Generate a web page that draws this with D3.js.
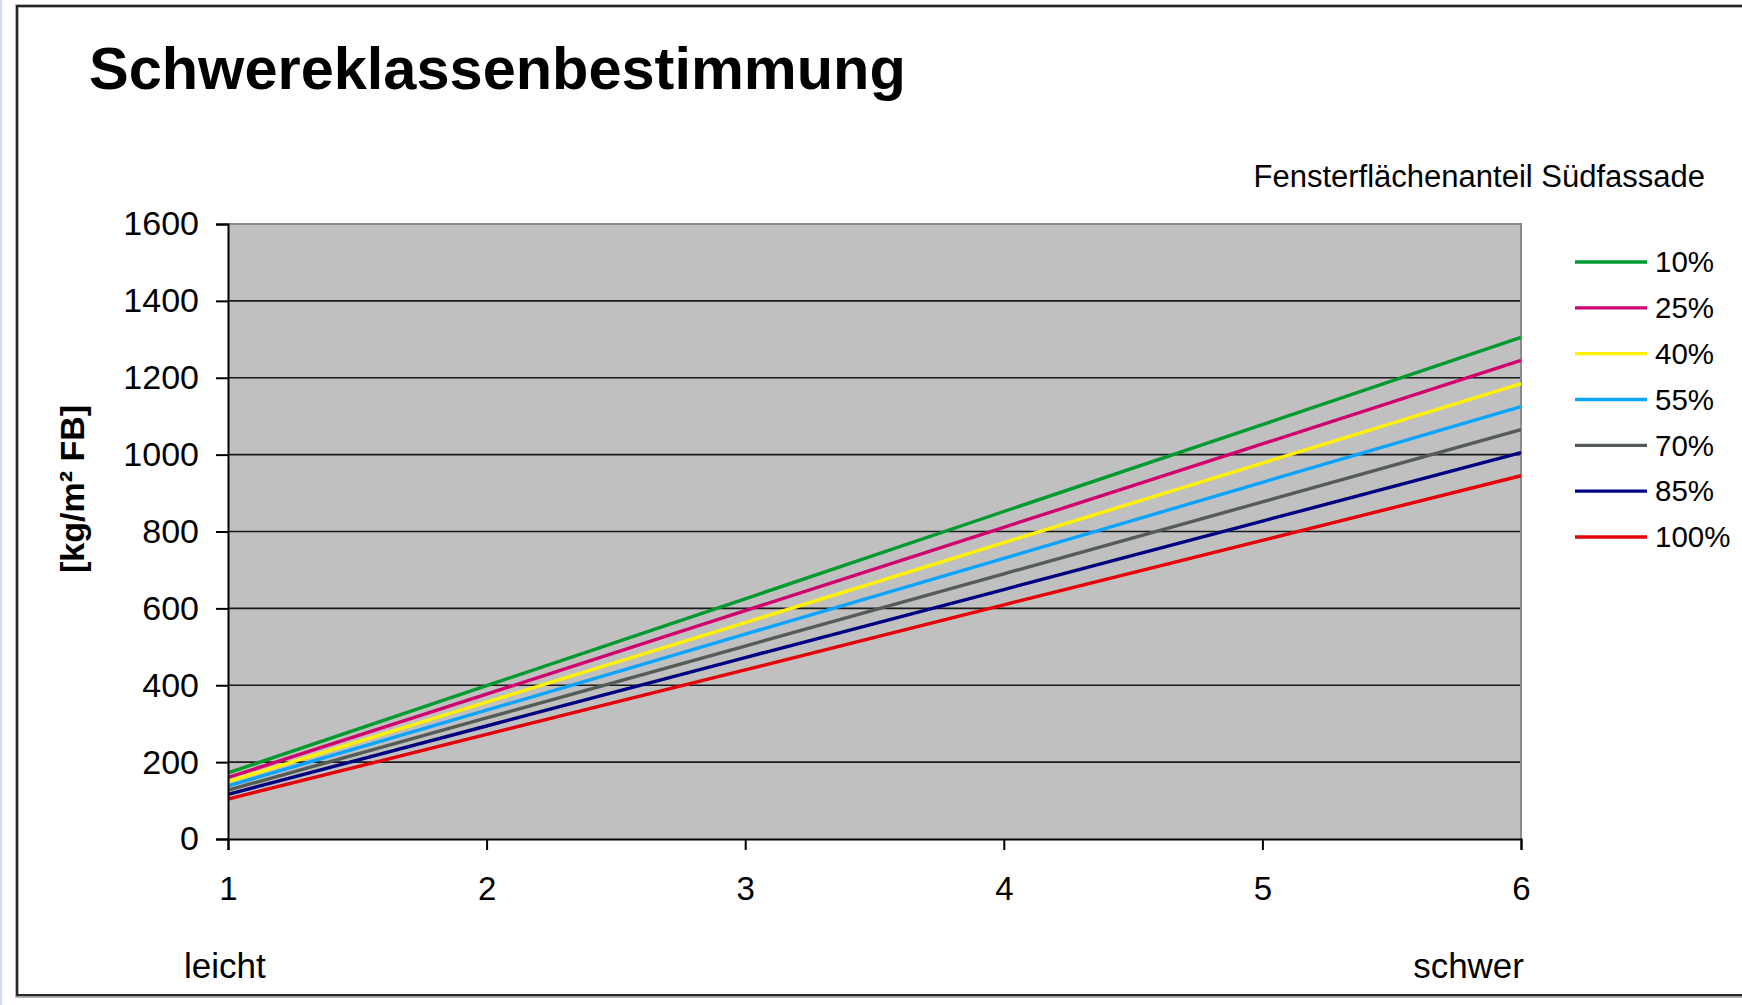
<!DOCTYPE html>
<html>
<head>
<meta charset="utf-8">
<script src="https://cdn.jsdelivr.net/npm/d3@7"></script>
<style>
  html, body { margin: 0; padding: 0; background: #ffffff; }
  svg { display: block; }
  text { font-family: "Liberation Sans", Arial, sans-serif; fill: #000; }
</style>
</head>
<body>
<svg id="chart" width="1742" height="1005"></svg>
<script>
// ---- data ----
const title = "Schwereklassenbestimmung";
const yAxisTitle = "[kg/m² FB]";
const legendTitle = "Fensterflächenanteil Südfassade";
const xLabelLeft = "leicht";
const xLabelRight = "schwer";
const xValues = [1, 2, 3, 4, 5, 6];
const yTicks = [0, 200, 400, 600, 800, 1000, 1200, 1400, 1600];
const seriesNames = ["10%", "25%", "40%", "55%", "70%", "85%", "100%"];
const s10  = [172, 399, 625, 852, 1078, 1305];
const s25  = [160, 377, 594, 811, 1028, 1245];
const s40  = [149, 356, 563, 771, 978, 1185];
const s55  = [138, 335, 533, 730, 928, 1125];
const s70  = [127, 315, 502, 690, 877, 1065];
const s85  = [116, 294, 472, 649, 827, 1005];
const s100 = [104, 272, 440, 609, 777, 945];
const seriesValues = [s10, s25, s40, s55, s70, s85, s100];
const seriesColors = ["#009A2E", "#D1006F", "#FFF200", "#0AA4FF", "#555C55", "#000080", "#E5000A"];

// ---- layout ----
const svg = d3.select("#chart");
const plot = { left: 228, right: 1521, top: 224, bottom: 839 };

// left light strip and frame
svg.append("rect").attr("x", 0).attr("y", 0).attr("width", 2).attr("height", 1005).attr("fill", "#cfdcf2");
svg.append("rect").attr("x", 17).attr("y", 6).attr("width", 1760).attr("height", 990)
  .attr("fill", "none").attr("stroke", "#9a9a9a").attr("stroke-width", 3.5);
svg.append("rect").attr("x", 17).attr("y", 6).attr("width", 1760).attr("height", 989)
  .attr("fill", "none").attr("stroke", "#000").attr("stroke-width", 1.5);

const x = d3.scaleLinear().domain([1, 6]).range([plot.left, plot.right]);
const y = d3.scaleLinear().domain([0, 1600]).range([plot.bottom, plot.top]);

// plot background
svg.append("rect").attr("x", plot.left).attr("y", plot.top)
  .attr("width", plot.right - plot.left).attr("height", plot.bottom - plot.top)
  .attr("fill", "#C0C0C0");

// grid lines
svg.append("g").selectAll("line").data(yTicks.filter(d => d > 0 && d < 1600)).join("line")
  .attr("x1", plot.left).attr("x2", plot.right)
  .attr("y1", d => y(d)).attr("y2", d => y(d))
  .attr("stroke", "#1a1a1a").attr("stroke-width", 1.6);

// top and right border (gray)
svg.append("path")
  .attr("d", `M${plot.left},${plot.top}H${plot.right}V${plot.bottom}`)
  .attr("fill", "none").attr("stroke", "#8a8a8a").attr("stroke-width", 2);

// series lines
const line = d3.line().x((d, i) => x(xValues[i])).y(d => y(d));
svg.append("g").selectAll("path").data(seriesValues).join("path")
  .attr("d", d => line(d))
  .attr("fill", "none")
  .attr("stroke", (d, i) => seriesColors[i])
  .attr("stroke-width", 3.4);

// axes
const yAxis = d3.axisLeft(y).tickValues(yTicks).tickSize(12).tickPadding(17).tickFormat(d3.format("d"));
const gy = svg.append("g").attr("transform", `translate(${plot.left},0)`).call(yAxis);
gy.select(".domain").attr("stroke", "#000").attr("stroke-width", 2);
gy.selectAll(".tick line").attr("stroke", "#000").attr("stroke-width", 2);
gy.selectAll(".tick text").attr("font-size", 34).attr("fill", "#000")
  .style("font-family", "'Liberation Sans', Arial, sans-serif");

const xAxis = d3.axisBottom(x).tickValues(xValues).tickSize(11).tickPadding(27).tickFormat(d3.format("d"));
const gx = svg.append("g").attr("transform", `translate(0,${plot.bottom})`).call(xAxis);
gx.select(".domain").attr("stroke", "#000").attr("stroke-width", 2);
gx.selectAll(".tick line").attr("stroke", "#000").attr("stroke-width", 2);
gx.selectAll(".tick text").attr("font-size", 33).attr("fill", "#000")
  .style("font-family", "'Liberation Sans', Arial, sans-serif");

// title
svg.append("text").attr("x", 89).attr("y", 89)
  .attr("font-size", 59.5).attr("font-weight", "bold").text(title);

// y axis title
svg.append("text")
  .attr("transform", "translate(84,489) rotate(-90)")
  .attr("text-anchor", "middle")
  .attr("font-size", 34).attr("font-weight", "bold").text(yAxisTitle);

// legend title
svg.append("text").attr("x", 1705).attr("y", 187).attr("text-anchor", "end")
  .attr("font-size", 31).text(legendTitle);

// bottom labels
svg.append("text").attr("x", 184).attr("y", 978).attr("font-size", 35).text(xLabelLeft);
svg.append("text").attr("x", 1524).attr("y", 978).attr("text-anchor", "end").attr("font-size", 35).text(xLabelRight);

// legend
const legendY = d3.scalePoint().domain(seriesNames).range([262, 537]);
const lg = svg.append("g").selectAll("g").data(seriesNames).join("g")
  .attr("transform", d => `translate(0,${legendY(d)})`);
lg.append("line").attr("x1", 1575).attr("x2", 1647).attr("y1", 0).attr("y2", 0)
  .attr("stroke", (d, i) => seriesColors[i]).attr("stroke-width", 3.4);
lg.append("text").attr("x", 1655).attr("y", 0).attr("dy", "0.35em")
  .attr("font-size", 29.5).text(d => d);
</script>
</body>
</html>
